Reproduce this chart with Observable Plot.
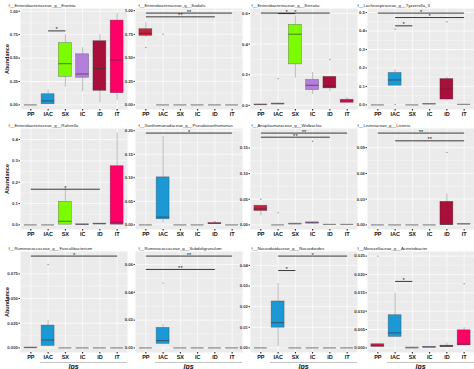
<!DOCTYPE html>
<html><head><meta charset="utf-8">
<script src="https://cdn.jsdelivr.net/npm/d3@7"></script>
<script src="https://cdn.jsdelivr.net/npm/@observablehq/plot@0.6"></script>
<style>
body{margin:0;background:#fff;}
#root{position:relative;width:474px;height:369px;overflow:hidden;font-family:"Liberation Sans",Arial,sans-serif;background:#fff;}
.p{position:absolute;}
.lab{position:absolute;font-weight:bold;color:#111;white-space:nowrap;}
</style></head><body><div id="root"></div>
<script>
const groups = ["PP","IAC","SX","IC","ID","IT"];
const colors = ["#C4213F","#1C98D4","#7CFC00","#B47EDB","#A80F3A","#FF0066"];

// box stats per group: [lower whisker, q1, median, q3, upper whisker]
const erwiniaBox = [[0,0,0,0,0],[0,0.007,0.043,0.114,0.16],[0.19,0.30,0.44,0.66,0.75],[0.14,0.29,0.33,0.54,0.61],[0.02,0.15,0.39,0.68,0.75],[0.05,0.125,0.48,0.90,0.98]];
const erwiniaOut = [];
const erwiniaSig = [["IAC","SX",0.79,"*"]];
const erwiniaTicks = ["0.00","0.25","0.50","0.75","1.00"];

const sodalisBox = [[0.715,0.733,0.76,0.804,0.875],[0,0,0,0,0],[0,0,0,0,0],[0,0,0,0,0],[0,0,0,0,0],[0,0,0,0,0]];
const sodalisOut = [["PP",0.61],["IAC",0.75]];
const sodalisSig = [["PP","IT",0.975,"**"],["PP","ID",0.935,"**"]];
const sodalisTicks = ["0.00","0.25","0.50","0.75","1.00"];

const serratiaBox = [[0.003,0.004,0.005,0.006,0.008],[0.005,0.008,0.01,0.012,0.015],[0.177,0.268,0.465,0.526,0.585],[0.072,0.10,0.131,0.166,0.214],[0.09,0.111,0.127,0.186,0.19],[0.015,0.017,0.028,0.037,0.05]];
const serratiaOut = [["IAC",0.175],["ID",0.30]];
const serratiaSig = [["PP","ID",0.603,"*"],["IAC","SX",0.600,"*"]];
const serratiaTicks = ["0.0","0.2","0.4","0.6"];

const tyzzerellaBox = [[0,0,0,0,0],[0.104,0.104,0.135,0.173,0.19],[0,0,0,0,0],[0.003,0.004,0.005,0.006,0.007],[0.02,0.029,0.086,0.14,0.15],[0.002,0.003,0.003,0.003,0.004]];
const tyzzerellaOut = [["IAC",0.41],["IAC",0.002],["ID",0.45]];
const tyzzerellaSig = [["PP","IT",0.497,"*"],["IAC","IT",0.473,"*"],["IAC","SX",0.428,"*"]];
const tyzzerellaTicks = ["0.0","0.1","0.2","0.3","0.4","0.5"];

const rahnellaBox = [[0,0,0,0,0],[0,0,0,0,0],[0,0.001,0.017,0.108,0.171],[0,0.001,0.002,0.003,0.005],[0.003,0.004,0.005,0.006,0.007],[0,0.001,0.013,0.275,0.43]];
const rahnellaOut = [];
const rahnellaSig = [["PP","ID",0.167,"*"]];
const rahnellaTicks = ["0.0","0.1","0.2","0.3","0.4"];

const pseudoxBox = [[0,0,0,0,0],[0.004,0.012,0.0166,0.101,0.188],[0,0,0,0,0],[0,0,0,0,0],[0.002,0.002,0.003,0.004,0.005],[0,0,0,0,0]];
const pseudoxOut = [["ID",0.007]];
const pseudoxSig = [["PP","IT",0.195,"*"]];
const pseudoxTicks = ["0.00","0.05","0.10","0.15","0.20"];

const wolbachiaBox = [[0.018,0.027,0.031,0.0374,0.0374],[0,0,0,0,0],[0.001,0.0015,0.002,0.0025,0.003],[0.002,0.003,0.004,0.005,0.006],[0.001,0.001,0.001,0.001,0.001],[0.001,0.001,0.001,0.001,0.001]];
const wolbachiaOut = [["PP",0.05],["IAC",0.024],["IC",0.163]];
const wolbachiaSig = [["PP","IT",0.179,"**"],["PP","ID",0.171,"**"]];
const wolbachiaTicks = ["0.00","0.05","0.10","0.15"];

const listeriaBox = [[0,0,0,0,0],[0,0,0,0,0],[0,0,0,0,0],[0,0,0,0,0],[0,0,0.0005,0.0269,0.036],[0.0005,0.001,0.001,0.0012,0.0015]];
const listeriaOut = [["ID",0.0845]];
const listeriaSig = [["PP","IT",0.107,"**"],["IAC","IT",0.098,"**"]];
const listeriaTicks = ["0.00","0.03","0.06","0.09"];

const faecaliBox = [[0,0.0002,0.0003,0.0004,0.0006],[0.001,0.002,0.008,0.0226,0.0277],[0,0,0,0,0],[0,0,0,0,0],[0,0,0,0,0],[0,0,0,0,0]];
const faecaliOut = [["IAC",0.0845]];
const faecaliSig = [["PP","IT",0.093,"*"]];
const faecaliTicks = ["0.000","0.025","0.050","0.075"];

const subdoliBox = [[0,0,0,0,0],[0.002,0.0029,0.0053,0.0144,0.0168],[0,0,0,0,0],[0,0,0,0,0],[0,0,0,0,0],[0,0,0,0,0]];
const subdoliOut = [["IAC",0.0466]];
const subdoliSig = [["PP","IT",0.066,"**"],["PP","ID",0.0564,"**"]];
const subdoliTicks = ["0.00","0.02","0.04","0.06"];

const nocardBox = [[0,0,0,0,0],[0.0007,0.0098,0.0122,0.0225,0.0312],[0,0,0,0,0],[0,0,0,0,0],[0,0,0,0,0],[0,0,0,0,0]];
const nocardOut = [];
const nocardSig = [["IAC","IT",0.0445,"*"],["IAC","SX",0.0375,"*"]];
const nocardTicks = ["0.00","0.01","0.02","0.03","0.04"];

const acinetoBox = [[0.0002,0.0003,0.0006,0.001,0.0012],[0.003,0.003,0.0041,0.0089,0.0149],[0,0,0,0.0001,0.0003],[0.0001,0.0001,0.0002,0.0003,0.0004],[0.0002,0.0003,0.0004,0.0006,0.0013],[0.0005,0.0007,0.001,0.0048,0.0055]];
const acinetoOut = [["PP",0.025],["IT",0.0175]];
const acinetoSig = [["IAC","SX",0.0181,"*"]];
const acinetoTicks = ["0.000","0.005","0.010","0.015","0.020","0.025"];

const titles = ["f__Enterobacteriaceae_g__Erwinia","f__Enterobacteriaceae_g__Sodalis","f__Enterobacteriaceae_g__Serratia","f__Lachnospiraceae_g__Tyzzerella_3",
"f__Enterobacteriaceae_g__Rahnella","f__Xanthomonadaceae_g__Pseudoxanthomonas","f__Anaplasmataceae_g__Wolbachia","f__Listeriaceae_g__Listeria",
"f__Ruminococcaceae_g__Faecalibacterium","f__Ruminococcaceae_g__Subdoligranulum","f__Nocardioidaceae_g__Nocardioides","f__Moraxellaceae_g__Acinetobacter"];

const panels = [
  [erwiniaBox, erwiniaOut, erwiniaSig, erwiniaTicks],
  [sodalisBox, sodalisOut, sodalisSig, sodalisTicks],
  [serratiaBox, serratiaOut, serratiaSig, serratiaTicks],
  [tyzzerellaBox, tyzzerellaOut, tyzzerellaSig, tyzzerellaTicks],
  [rahnellaBox, rahnellaOut, rahnellaSig, rahnellaTicks],
  [pseudoxBox, pseudoxOut, pseudoxSig, pseudoxTicks],
  [wolbachiaBox, wolbachiaOut, wolbachiaSig, wolbachiaTicks],
  [listeriaBox, listeriaOut, listeriaSig, listeriaTicks],
  [faecaliBox, faecaliOut, faecaliSig, faecaliTicks],
  [subdoliBox, subdoliOut, subdoliSig, subdoliTicks],
  [nocardBox, nocardOut, nocardSig, nocardTicks],
  [acinetoBox, acinetoOut, acinetoSig, acinetoTicks]
];

// layout
const colGrayLeft = [20, 135, 250, 367];
const rowGrayTop = [8, 128, 251];
const GW = 107, GH = 101, ML = 17, MT = 8, MB = 12;
const titleDx = [-12, 3, 1, -10];
const FONT = '"Liberation Sans", Arial, sans-serif';
const root = document.getElementById("root");
const half = 0.375;
const EDGE = "#333333";

panels.forEach(([box, out, sig, ticks], k) => {
  const col = k % 4, row = Math.floor(k / 4);
  const rows = box.map((b, i) => ({i: i + 1, lo: b[0], q1: b[1], med: b[2], q3: b[3], hi: b[4], color: colors[i]}));
  const outs = out.map(([g, v]) => ({i: groups.indexOf(g) + 1, v}));
  const sigs = sig.map(([a, b, y, lab]) => ({a: groups.indexOf(a) + 1, b: groups.indexOf(b) + 1, y, lab}));
  const vals = [...box.flat(), ...outs.map(d => d.v), ...sigs.map(d => d.y)];
  const lo = d3.min(vals), hi = d3.max(vals), pad = (hi - lo) * 0.05;
  const tickVals = ticks.map(Number);
  const minor = tickVals.slice(0, -1).map((t, j) => (t + tickVals[j + 1]) / 2);
  const plot = Plot.plot({
    width: ML + GW, height: MT + GH + MB,
    marginLeft: ML, marginRight: 0, marginTop: MT, marginBottom: MB,
    style: {fontFamily: FONT, fontSize: "5px", background: "transparent", overflow: "visible"},
    x: {type: "linear", domain: [0.4, 6.6]},
    y: {domain: [lo - pad, hi + pad]},
    color: {type: "identity"},
    marks: [
      Plot.frame({fill: "#EBEBEB", stroke: null}),
      Plot.gridY(minor, {stroke: "white", strokeOpacity: 1, strokeWidth: 0.35}),
      Plot.gridY(tickVals, {stroke: "white", strokeOpacity: 1, strokeWidth: 0.7}),
      Plot.gridX([1, 2, 3, 4, 5, 6], {stroke: "white", strokeOpacity: 1, strokeWidth: 0.7}),
      Plot.axisY(tickVals, {tickSize: 1.5, tickPadding: 1, label: null, fontSize: 4.3, fontWeight: "bold", color: "#3a3a3a",
        tickFormat: d => ticks[tickVals.indexOf(d)]}),
      Plot.axisX([1, 2, 3, 4, 5, 6], {tickSize: 1.5, tickPadding: 1, label: null, fontSize: 5.5, fontWeight: "bold", color: "#111",
        tickFormat: d => groups[d - 1]}),
      Plot.ruleX(rows, {x: "i", y1: "lo", y2: "q1", stroke: EDGE, strokeOpacity: 0.5, strokeWidth: 0.6}),
      Plot.ruleX(rows, {x: "i", y1: "q3", y2: "hi", stroke: EDGE, strokeOpacity: 0.5, strokeWidth: 0.6}),
      Plot.rect(rows, {x1: d => d.i - half, x2: d => d.i + half, y1: "q1", y2: "q3", fill: "color",
        stroke: EDGE, strokeOpacity: 0.5, strokeWidth: 0.6}),
      Plot.ruleY(rows, {x1: d => d.i - half, x2: d => d.i + half, y: "med", stroke: EDGE, strokeOpacity: 0.6, strokeWidth: 1.1}),
      Plot.dot(outs, {x: "i", y: "v", r: 0.7, fill: EDGE, fillOpacity: 0.55, stroke: null}),
      Plot.link(sigs, {x1: "a", x2: "b", y1: "y", y2: "y", stroke: "#1a1a1a", strokeWidth: 0.85}),
      Plot.text(sigs, {x: d => (d.a + d.b) / 2, y: "y", text: "lab", lineAnchor: "middle", dy: -1.3, fontSize: 5.8, fill: "#1a1a1a"}),
      Plot.text([titles[k]], {frameAnchor: "top-left", textAnchor: "start", lineAnchor: "bottom", dy: -2, dx: titleDx[col], fontSize: 4.3, fill: "#222"})
    ]
  });
  plot.classList.add("p");
  plot.style.left = (colGrayLeft[col] - ML) + "px";
  plot.style.top = (rowGrayTop[row] - MT) + "px";
  root.appendChild(plot);

  if (col === 0) {
    const d = document.createElement("div");
    d.className = "lab";
    d.textContent = "Abundance";
    d.style.fontSize = "5.5px";
    d.style.left = "6.5px";
    d.style.top = (rowGrayTop[row] + GH / 2) + "px";
    d.style.transform = "translate(-50%,-50%) rotate(-90deg)";
    root.appendChild(d);
  }
  if (row === 2) {
    const d = document.createElement("div");
    d.className = "lab";
    d.textContent = "lps";
    d.style.fontSize = "7px";
    d.style.fontStyle = "italic";
    d.style.left = (colGrayLeft[col] + GW / 2) + "px";
    d.style.top = "365.5px";
    d.style.transform = "translate(-50%,-50%)";
    root.appendChild(d);
    const ln = document.createElement("div");
    ln.style.position = "absolute";
    ln.style.left = (colGrayLeft[col] + 20) + "px";
    ln.style.width = (GW - 20) + "px";
    ln.style.top = "361.5px";
    ln.style.height = "0.7px";
    ln.style.background = "#c4c4c4";
    root.appendChild(ln);
  }
});
</script></body></html>
